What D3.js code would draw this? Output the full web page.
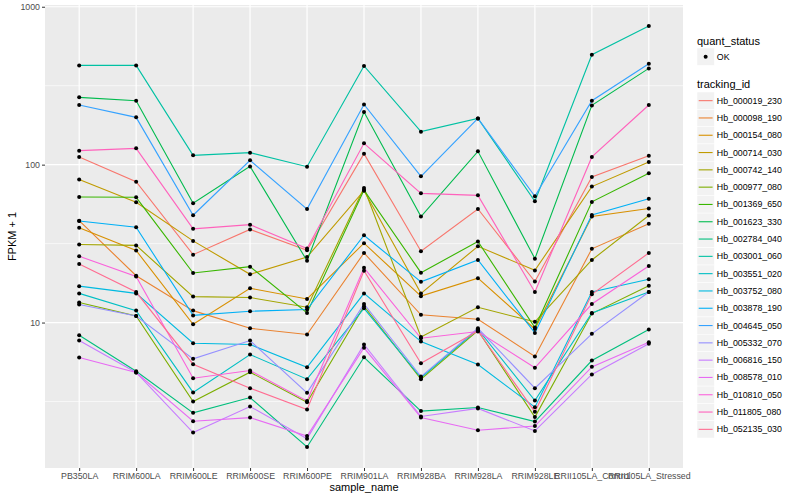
<!DOCTYPE html>
<html>
<head>
<meta charset="utf-8">
<script src="https://d3js.org/d3.v7.min.js"></script>
<style>
body { margin: 0; background: #fff; }
text { font-family: "Liberation Sans", Arial, Helvetica, sans-serif; }
</style>
</head>
<body>
<div id="plot"></div>
<script>
// samples on the x axis
let samples = ["PB350LA", "RRIM600LA", "RRIM600LE", "RRIM600SE", "RRIM600PE", "RRIM901LA",
    "RRIM928BA", "RRIM928LA", "RRIM928LE", "RRII105LA_Control", "RRII105LA_Stressed"];

let trackingIds = ["Hb_000019_230", "Hb_000098_190", "Hb_000154_080", "Hb_000714_030", "Hb_000742_140",
    "Hb_000977_080", "Hb_001369_650", "Hb_001623_330", "Hb_002784_040", "Hb_003001_060",
    "Hb_003551_020", "Hb_003752_080", "Hb_003878_190", "Hb_004645_050", "Hb_005332_070",
    "Hb_006816_150", "Hb_008578_010", "Hb_010810_050", "Hb_011805_080", "Hb_052135_030"];

// FPKM + 1 per sample, one array per gene
let hb_000019_230 = [111.9, 78.0, 26.9, 38.9, 28.7, 117.4, 28.3, 52.4, 18.2, 83.6, 114.0];
let hb_000098_190 = [44.2, 19.8, 11.9, 9.2, 8.4, 27.6, 11.2, 10.5, 6.1, 29.3, 42.3];
let hb_000154_080 = [39.9, 28.6, 9.75, 16.5, 14.1, 31.8, 14.7, 19.1, 9.1, 46.9, 52.7];
let hb_000714_030 = [80.4, 57.7, 32.9, 20.2, 26.0, 68.4, 15.3, 30.4, 21.4, 72.6, 104.0];
let hb_000742_140 = [31.2, 30.8, 14.6, 14.4, 12.5, 71.2, 8.1, 12.5, 10.1, 24.9, 47.6];
let hb_000977_080 = [13.4, 11.0, 3.16, 4.85, 3.13, 12.7, 4.38, 8.9, 2.52, 11.4, 17.1];
let hb_001369_650 = [62.4, 62.1, 20.6, 22.6, 11.5, 69.0, 20.7, 32.6, 9.3, 58.1, 88.1];
let hb_001623_330 = [266.7, 254.1, 56.9, 97.5, 24.6, 215.6, 46.9, 121.4, 25.4, 237.3, 406.9];
let hb_002784_040 = [8.31, 4.92, 2.68, 3.35, 1.63, 6.03, 2.75, 2.90, 2.36, 5.75, 9.03];
let hb_003001_060 = [425.2, 425.2, 114.5, 119.1, 97.1, 421.5, 161.8, 196.3, 58.6, 496.9, 754.6];
let hb_003551_020 = [15.3, 11.9, 3.61, 6.27, 4.38, 12.3, 4.47, 9.07, 3.21, 11.5, 15.6];
let hb_003752_080 = [17.0, 15.3, 7.40, 7.26, 5.21, 15.3, 7.58, 5.42, 2.91, 15.6, 18.8];
let hb_003878_190 = [44.0, 40.1, 11.1, 11.8, 12.1, 35.7, 18.1, 24.9, 8.6, 48.0, 60.9];
let hb_004645_050 = [238.7, 199.3, 47.8, 106.5, 52.3, 240.8, 84.3, 196.3, 63.0, 254.1, 435.8];
let hb_005332_070 = [13.0, 11.0, 5.89, 7.69, 3.59, 13.1, 4.55, 9.2, 3.84, 8.48, 15.6];
let hb_006816_150 = [7.69, 4.83, 2.01, 2.94, 1.84, 7.26, 2.54, 2.86, 2.06, 4.69, 7.33];
let hb_008578_010 = [6.0, 4.83, 2.37, 2.50, 1.91, 6.92, 2.50, 2.08, 2.21, 5.24, 7.50];
let hb_010810_050 = [26.3, 19.6, 4.44, 4.97, 3.19, 22.2, 7.95, 8.77, 5.17, 13.1, 22.8];
let hb_011805_080 = [122.6, 126.8, 39.2, 41.7, 29.4, 136.4, 65.8, 63.9, 15.6, 111.9, 238.7];
let hb_052135_030 = [23.5, 15.6, 5.45, 3.84, 2.81, 21.3, 5.53, 8.84, 2.72, 15.1, 27.6];

let quantStatus = ["OK"];
let yTicks = [10, 100, 1000];

let allSeries = [hb_000019_230, hb_000098_190, hb_000154_080, hb_000714_030, hb_000742_140,
    hb_000977_080, hb_001369_650, hb_001623_330, hb_002784_040, hb_003001_060,
    hb_003551_020, hb_003752_080, hb_003878_190, hb_004645_050, hb_005332_070,
    hb_006816_150, hb_008578_010, hb_010810_050, hb_011805_080, hb_052135_030];

// ggplot hue palette, 20 levels
let palette = ["#F8766D", "#EA8331", "#D89000", "#C09B00", "#A3A500", "#7CAE00", "#39B600", "#00BB4E",
    "#00BF7D", "#00C1A3", "#00BFC4", "#00BAE0", "#00B0F6", "#35A2FF", "#9590FF", "#C77CFF",
    "#E76BF3", "#FA62DB", "#FF62BC", "#FF6C91"];

let margin = {top: 5, left: 45, right: 117, bottom: 32};
let width = 800 - margin.left - margin.right;
let height = 500 - margin.top - margin.bottom;

let root = d3.select("#plot")
    .append("svg")
    .attr("width", 800)
    .attr("height", 500);

let svg = root.append("g")
    .attr("transform", "translate(" + margin.left + "," + margin.top + ")");

// log scale with ggplot's 5% expansion
let lo = d3.min(allSeries, s => d3.min(s));
let hi = d3.max(allSeries, s => d3.max(s));
let lrange = Math.log10(hi) - Math.log10(lo);
let y = d3.scaleLog()
    .domain([Math.pow(10, Math.log10(lo) - 0.05 * lrange), Math.pow(10, Math.log10(hi) + 0.05 * lrange)])
    .range([height, 0]);

let x = d3.scalePoint()
    .domain(samples)
    .range([0, width])
    .padding(0.6);

svg.append("rect")
    .attr("width", width)
    .attr("height", height)
    .attr("fill", "#EBEBEB");

// minor grid at the log midpoints
let minor = yTicks.map(t => t / Math.sqrt(10)).concat([1000 * Math.sqrt(10)])
    .filter(v => y(v) >= 0 && y(v) <= height);
svg.selectAll(".minor")
    .data(minor)
    .enter()
    .append("line")
    .attr("x1", 0).attr("x2", width)
    .attr("y1", d => y(d)).attr("y2", d => y(d))
    .attr("stroke", "#fff")
    .attr("stroke-width", 0.6);

svg.selectAll(".majorY")
    .data(yTicks)
    .enter()
    .append("line")
    .attr("x1", 0).attr("x2", width)
    .attr("y1", d => y(d)).attr("y2", d => y(d))
    .attr("stroke", "#fff")
    .attr("stroke-width", 1.2);

svg.selectAll(".majorX")
    .data(samples)
    .enter()
    .append("line")
    .attr("x1", d => x(d)).attr("x2", d => x(d))
    .attr("y1", 0).attr("y2", height)
    .attr("stroke", "#fff")
    .attr("stroke-width", 1.2);

let line = d3.line()
    .x((d, i) => x(samples[i]))
    .y(d => y(d));

svg.append("g")
    .selectAll("path")
    .data(allSeries)
    .enter()
    .append("path")
    .attr("fill", "none")
    .attr("stroke", (d, i) => palette[i])
    .attr("stroke-width", 1.1)
    .attr("d", line);

allSeries.forEach(function (s) {
    svg.append("g")
        .selectAll("circle")
        .data(s)
        .enter()
        .append("circle")
        .attr("cx", (d, i) => x(samples[i]))
        .attr("cy", d => y(d))
        .attr("r", 2)
        .attr("fill", "black");
});

// axes
let yAxis = svg.append("g")
    .call(d3.axisLeft(y).tickValues(yTicks).tickFormat(d3.format("d")).tickSize(3).tickPadding(2));
let xAxis = svg.append("g")
    .attr("transform", "translate(0," + height + ")")
    .call(d3.axisBottom(x).tickSize(3).tickPadding(2));

[yAxis, xAxis].forEach(function (a) {
    a.select(".domain").remove();
    a.selectAll(".tick line").attr("stroke", "#333333").attr("stroke-width", 1);
    a.selectAll(".tick text")
        .attr("fill", "#4D4D4D")
        .style("font-size", "8.8px")
        .style("font-family", "'Liberation Sans', Arial, sans-serif");
});

root.append("text")
    .attr("x", margin.left + width / 2)
    .attr("y", 491)
    .attr("text-anchor", "middle")
    .style("font-size", "11px")
    .text("sample_name");

root.append("text")
    .attr("transform", "translate(16," + (margin.top + height / 2) + ")rotate(-90)")
    .attr("text-anchor", "middle")
    .style("font-size", "11px")
    .text("FPKM + 1");

// legends
let lx = 697;
let keySize = 17.3;

root.append("text").attr("x", lx).attr("y", 44.5).style("font-size", "11px").text("quant_status");
quantStatus.forEach(function (q, i) {
    let ky = 48 + i * keySize;
    root.append("rect").attr("x", lx).attr("y", ky).attr("width", keySize).attr("height", keySize)
        .attr("fill", "#F2F2F2").attr("stroke", "#fff").attr("stroke-width", 0.5);
    root.append("circle").attr("cx", lx + keySize / 2).attr("cy", ky + keySize / 2).attr("r", 2).attr("fill", "black");
    root.append("text").attr("x", lx + keySize + 2.5).attr("y", ky + keySize / 2)
        .attr("dominant-baseline", "central").style("font-size", "8.8px").text(q);
});

root.append("text").attr("x", lx).attr("y", 88).style("font-size", "11px").text("tracking_id");

let keys = root.append("g")
    .selectAll("g")
    .data(trackingIds)
    .enter()
    .append("g")
    .attr("transform", (d, i) => "translate(" + lx + "," + (92 + i * keySize) + ")");

keys.append("rect")
    .attr("width", keySize).attr("height", keySize)
    .attr("fill", "#F2F2F2").attr("stroke", "#fff").attr("stroke-width", 0.5);
keys.append("line")
    .attr("x1", 1.7).attr("x2", keySize - 1.7)
    .attr("y1", keySize / 2).attr("y2", keySize / 2)
    .attr("stroke", (d, i) => palette[i])
    .attr("stroke-width", 1.1);
keys.append("text")
    .attr("x", keySize + 2.5)
    .attr("y", keySize / 2)
    .attr("dominant-baseline", "central")
    .style("font-size", "8.8px")
    .text(d => d);
</script>
</body>
</html>
